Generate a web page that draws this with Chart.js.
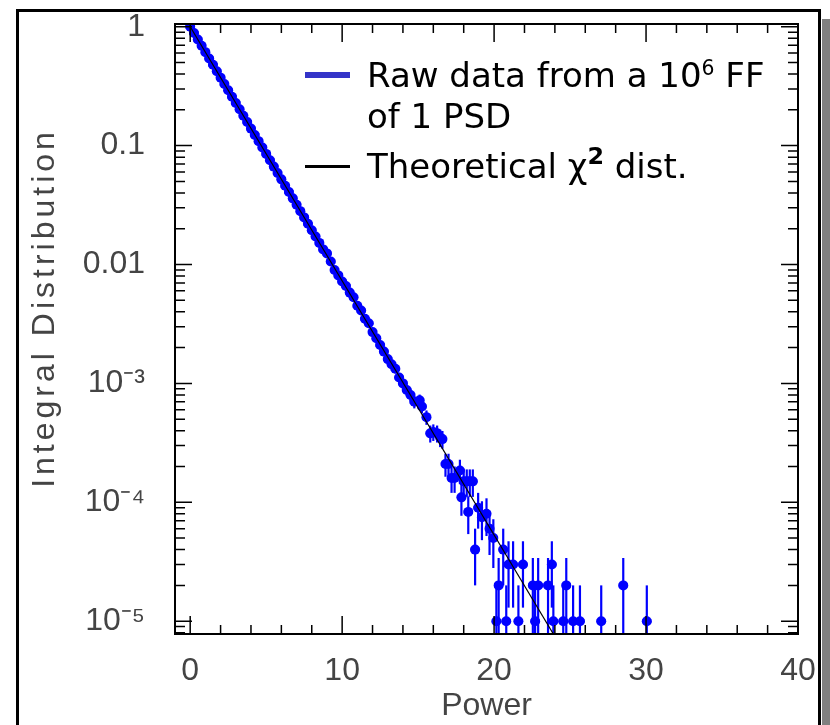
<!DOCTYPE html>
<html>
<head>
<meta charset="utf-8">
<script src="https://cdn.jsdelivr.net/npm/chart.js@4.4.1/dist/chart.umd.min.js"></script>
<style>
  html, body { margin: 0; padding: 0; background: #fff; overflow: hidden; }
  #wrap { position: relative; width: 830px; height: 725px; overflow: hidden; }
  #chart { position: absolute; left: 0; top: 0; }
  .frame { position: absolute; left: 16px; top: 9px; width: 805px; height: 800px; box-sizing: border-box; border: 3px solid #000; border-bottom: none; }
  .shadow { position: absolute; left: 822px; top: 19px; width: 8px; height: 800px; background: #808080; }
  .ytitle { position: absolute; left: 43px; top: 308px; transform: translate(-50%, -50%) rotate(-90deg);
            font: 32px "Liberation Sans", Arial, sans-serif; letter-spacing: 4px; color: #444; white-space: nowrap; }
  .legend { position: absolute; left: 367px; font-family: "DejaVu Sans", sans-serif; font-size: 34px; line-height: 34px; color: #000; white-space: nowrap; }
  .legend sup { font-size: 0.6em; line-height: 0; vertical-align: baseline; position: relative; top: -0.6em; }
  .key { position: absolute; left: 305px; width: 45px; }
</style>
</head>
<body>
<div id="wrap">
  <canvas id="chart" width="830" height="725"></canvas>
  <div class="frame"></div>
  <div class="shadow"></div>
  <div class="ytitle">Integral Distribution</div>
  <div class="key" style="top:72px;height:6px;background:#3434c8;"></div>
  <div class="legend" style="top:58px;">Raw data from a 10<sup>6</sup> FF</div>
  <div class="legend" style="top:99px;">of 1 PSD</div>
  <div class="key" style="top:165px;height:3px;background:#000;"></div>
  <div class="legend" style="top:149px;">Theoretical χ<sup style="font-weight:bold;font-size:0.7em;">2</sup> dist.</div>
</div>
<script>
// raw data (power, integral distribution, error)
const powerX = [
  0, 0.25, 0.5, 0.75, 1, 1.25, 1.5, 1.75, 2, 2.25,
  2.5, 2.75, 3, 3.25, 3.5, 3.75, 4, 4.25, 4.5, 4.75,
  5, 5.25, 5.5, 5.75, 6, 6.25, 6.5, 6.75, 7, 7.25,
  7.5, 7.75, 8, 8.25, 8.5, 8.75, 9, 9.25, 9.5, 9.75,
  10, 10.25, 10.5, 10.75, 11, 11.25, 11.5, 11.75, 12, 12.25,
  12.5, 12.75, 13, 13.25, 13.5, 13.75, 14, 14.25, 14.5,
  14.75, 15.1, 15.25, 15.55, 15.8, 16.0, 16.25, 16.45, 16.6,
  16.8, 17.0, 17.2, 17.4, 17.75, 17.85, 18.0, 18.2, 18.3, 18.4,
  18.6, 18.75, 18.95, 19.2, 19.5, 19.7, 19.95, 20.15, 20.3, 20.6,
  20.8, 20.95, 21.25, 21.6, 21.9, 22.55, 22.7, 22.9, 23.55, 23.8,
  23.9, 24.55, 24.75, 25.2, 25.65, 27.05, 28.5, 30.05
];
const integralY = [
  1, 0.884, 0.782, 0.691, 0.611, 0.540, 0.478, 0.422, 0.373, 0.330,
  0.292, 0.258, 0.228, 0.202, 0.178, 0.158, 0.139, 0.123, 0.109, 0.0963,
  0.0852, 0.0753, 0.0666, 0.0589, 0.0520, 0.0460, 0.0407, 0.0360, 0.0318, 0.0281,
  0.0249, 0.0220, 0.0194, 0.0172, 0.0152, 0.0134, 0.0124, 0.0106, 0.0090, 0.0081,
  0.0072, 0.0066, 0.0058, 0.0053, 0.0045, 0.0041, 0.0035, 0.0032, 0.0027, 0.0024,
  0.0021, 0.00185, 0.00160, 0.00145, 0.00133, 0.00112, 0.00100, 0.00088, 0.00080,
  7.0e-4, 7.2e-4, 6.4e-4, 5.2e-4, 3.8e-4, 3.9e-4, 3.8e-4, 3.5e-4, 3.4e-4,
  2.1e-4, 2.1e-4, 1.6e-4, 1.6e-4, 1.85e-4, 1.1e-4, 1.5e-4, 1.5e-4, 8.3e-5, 1.5e-4,
  1.5e-4, 4e-5, 9e-5, 7.5e-5, 8e-5, 6e-5, 5e-5, 1e-5, 2e-5, 4e-5,
  1e-5, 3e-5, 3e-5, 1e-5, 3e-5, 2e-5, 1e-5, 2e-5, 2e-5, 3e-5,
  1e-5, 1e-5, 2e-5, 1e-5, 1e-5, 1e-5, 2e-5, 1e-5
];
const errY = [
  0.0032, 0.003, 0.0028, 0.0026, 0.0025, 0.0023, 0.0022, 0.0021, 0.0019, 0.0018,
  0.0017, 0.0016, 0.0015, 0.0014, 0.0013, 0.0013, 0.0012, 0.0011, 0.001, 0.00098,
  0.00092, 0.00087, 0.00082, 0.00077, 0.00072, 0.00068, 0.00064, 0.0006, 0.00056, 0.00053,
  0.0005, 0.00047, 0.00044, 0.00041, 0.00039, 0.00037, 0.00035, 0.00033, 0.0003, 0.00028,
  0.00027, 0.00026, 0.00024, 0.00023, 0.00021, 0.0002, 0.00019, 0.00018, 0.00016, 0.00015,
  0.000145, 0.000136, 0.000126, 0.00012, 0.000115, 0.000106, 0.0001, 0.000094, 0.00009,
  8.4e-5, 8.5e-5, 8e-5, 7.2e-5, 6.2e-5, 6.2e-5, 6.2e-5, 5.9e-5, 5.8e-5,
  4.6e-5, 4.6e-5, 4e-5, 4e-5, 4.3e-5, 3.3e-5, 3.9e-5, 3.9e-5, 2.9e-5, 3.9e-5,
  3.9e-5, 2e-5, 3e-5, 2.7e-5, 2.8e-5, 2.4e-5, 2.2e-5, 1e-5, 1.4e-5, 2e-5,
  1e-5, 1.7e-5, 1.7e-5, 1e-5, 1.7e-5, 1.4e-5, 1e-5, 1.4e-5, 1.4e-5, 1.7e-5,
  1e-5, 1e-5, 1.4e-5, 1e-5, 1e-5, 1e-5, 1.4e-5, 1e-5
];
const binHalf = 0.3;

// theoretical chi^2 curve, end points
const theoryX = [0, 23.9];
const theoryY = [1, 7.8e-6];

const xTickLabels = [0, 10, 20, 30, 40];
const yTickLabels = ['1', '0.1', '0.01', '10⁻³', '10⁻⁴', '10⁻⁵'];

const axisFont = { family: '"Liberation Sans", Arial, sans-serif', size: 32 };

const errorBars = {
    id: 'errorBars',
    beforeDatasetsDraw(chart) {
        const { ctx, chartArea: a, scales: { x, y } } = chart;
        ctx.save();
        ctx.beginPath();
        ctx.rect(a.left, a.top, a.right - a.left, a.bottom - a.top);
        ctx.clip();
        ctx.strokeStyle = '#0000ff';
        powerX.forEach((p, i) => {
            const cx = x.getPixelForValue(p);
            const cy = y.getPixelForValue(integralY[i]);
            const hi = y.getPixelForValue(integralY[i] + errY[i]);
            const low = integralY[i] - errY[i];
            const lo = low > 0 ? y.getPixelForValue(low) : a.bottom + 10;
            ctx.lineWidth = 2.2;
            ctx.beginPath();
            ctx.moveTo(cx, hi);
            ctx.lineTo(cx, lo);
            ctx.stroke();
            ctx.lineWidth = 3.5;
            ctx.beginPath();
            ctx.moveTo(x.getPixelForValue(p - binHalf), cy);
            ctx.lineTo(x.getPixelForValue(p + binHalf), cy);
            ctx.stroke();
        });
        ctx.restore();
    }
};

// box round the plot with inward ticks on all four sides
const frameTicks = {
    id: 'frameTicks',
    afterDraw(chart) {
        const { ctx, chartArea: a, scales: { x, y } } = chart;
        ctx.save();
        ctx.strokeStyle = '#000';
        ctx.lineWidth = 1.5;
        for (let v = 0; v <= 40; v += 2) {
            const px = x.getPixelForValue(v);
            const len = v % 10 === 0 ? 18 : 9;
            ctx.beginPath();
            ctx.moveTo(px, a.bottom); ctx.lineTo(px, a.bottom - len);
            ctx.moveTo(px, a.top); ctx.lineTo(px, a.top + len);
            ctx.stroke();
        }
        for (let e = -6; e <= 0; e++) {
            for (let m = 1; m <= 9; m++) {
                const v = m * Math.pow(10, e);
                if (v < y.min || v > y.max) continue;
                const py = y.getPixelForValue(v);
                const len = m === 1 ? 17 : 10;
                ctx.beginPath();
                ctx.moveTo(a.left, py); ctx.lineTo(a.left + len, py);
                ctx.moveTo(a.right, py); ctx.lineTo(a.right - len, py);
                ctx.stroke();
            }
        }
        ctx.lineWidth = 2;
        ctx.strokeRect(a.left, a.top, a.right - a.left, a.bottom - a.top);
        ctx.restore();
    }
};

new Chart(document.getElementById('chart'), {
    type: 'scatter',
    data: {
        datasets: [
            {
                label: 'Theoretical χ2 dist.',
                type: 'line',
                data: theoryX.map((x, i) => ({ x: x, y: theoryY[i] })),
                borderColor: '#000',
                borderWidth: 1.2,
                pointRadius: 0,
                fill: false,
                order: 0
            },
            {
                label: 'Raw data from a 10^6 FF of 1 PSD',
                data: powerX.map((x, i) => ({ x: x, y: integralY[i] })),
                pointRadius: 5,
                pointHoverRadius: 5,
                pointBackgroundColor: '#0000ff',
                pointBorderWidth: 0,
                order: 1
            }
        ]
    },
    options: {
        responsive: false,
        animation: false,
        devicePixelRatio: 1,
        layout: { padding: { left: 0, top: 24, right: 32, bottom: 0 }, autoPadding: false },
        plugins: { legend: { display: false }, tooltip: { enabled: false } },
        scales: {
            x: {
                type: 'linear',
                min: -1,
                max: 40,
                grid: { display: false },
                border: { display: false },
                ticks: {
                    stepSize: 10,
                    includeBounds: false,
                    autoSkip: false,
                    maxRotation: 0,
                    padding: 10,
                    color: '#444',
                    font: axisFont,
                    callback: v => xTickLabels.includes(v) ? String(v) : ''
                },
                title: { display: true, text: 'Power', color: '#444', font: axisFont, padding: { top: 0, bottom: 0 } },
                afterFit: s => { s.height = 91; s.paddingLeft = 0; s.paddingRight = 0; }
            },
            y: {
                type: 'logarithmic',
                min: 7.8e-6,
                max: 1.054,
                grid: { display: false },
                border: { display: false },
                ticks: {
                    autoSkip: false,
                    padding: 22,
                    color: '#444',
                    font: axisFont,
                    callback: v => {
                        const e = Math.log10(v);
                        const r = Math.round(e);
                        if (Math.abs(e - r) > 1e-6) return '';
                        return yTickLabels[-r] || '';
                    }
                },
                afterFit: s => { s.width = 175; s.paddingTop = 0; s.paddingBottom = 0; }
            }
        }
    },
    plugins: [errorBars, frameTicks]
});
</script>
</body>
</html>
